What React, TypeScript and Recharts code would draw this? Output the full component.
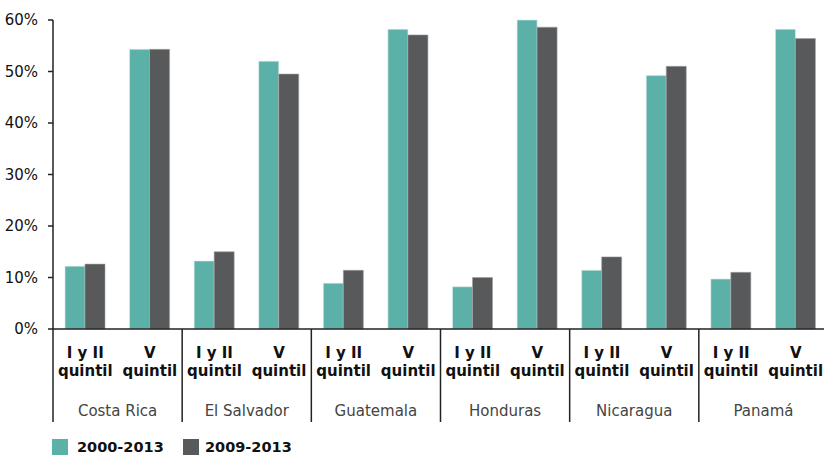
import React from 'react';
import { BarChart, Bar, XAxis, YAxis, Legend } from 'recharts';

const countries = ['Costa Rica', 'El Salvador', 'Guatemala', 'Honduras', 'Nicaragua', 'Panamá'];
const quintiles = ['I y II', 'V'];
const series2000 = [12.2, 54.3, 13.2, 52.0, 8.9, 58.2, 8.2, 60.0, 11.4, 49.2, 9.7, 58.2];
const series2009 = [12.6, 54.3, 15.0, 49.5, 11.4, 57.1, 10.0, 58.6, 14.0, 51.0, 11.0, 56.4];
const yTicks = [0, 10, 20, 30, 40, 50, 60];

const TEAL = '#5BB1A7';
const GREY = '#58595B';
const FONT = "'DejaVu Sans', sans-serif";

const data = series2000.map((v, i) => ({
  key: `${countries[Math.floor(i / 2)]}-${i % 2}`,
  country: countries[Math.floor(i / 2)],
  quintile: quintiles[i % 2],
  a: v,
  b: series2009[i],
}));

const CHART_W = 828;
const BAND = (CHART_W - 53) / 12;

const QuintileTick = (props: any) => {
  const { x, y, index } = props;
  const d = data[index];
  const first = index % 2 === 0;
  const top = y - 8;
  return (
    <g fontFamily={FONT} textAnchor="middle">
      <text x={x} y={top + 29} fontWeight="bold" fontSize={15} fill="#111">{d.quintile}</text>
      <text x={x} y={top + 47} fontWeight="bold" fontSize={15} fill="#111">quintil</text>
      {first && (
        <>
          <text x={x + BAND / 2} y={top + 87} fontSize={15} fill="#444">{d.country}</text>
          <line x1={x - BAND / 2} x2={x - BAND / 2} y1={top} y2={top + 93} stroke="#222" strokeWidth={1.5} />
        </>
      )}
    </g>
  );
};

const LegendContent = () => (
  <div
    style={{
      display: 'flex',
      alignItems: 'center',
      fontFamily: FONT,
      fontWeight: 'bold',
      fontSize: 14.5,
      color: '#111',
      paddingLeft: 52,
      marginTop: 15,
      whiteSpace: 'nowrap',
    }}
  >
    <span style={{ width: 16, height: 16, background: TEAL, display: 'inline-block', marginRight: 9 }} />
    <span style={{ width: 106 }}>2000-2013</span>
    <span style={{ width: 16, height: 16, background: GREY, display: 'inline-block', marginRight: 6 }} />
    <span>2009-2013</span>
  </div>
);

export default function App() {
  return (
    <div style={{ position: 'absolute', left: 0, top: 0, width: 824, height: 458, overflow: 'hidden', background: '#fff' }}>
      <BarChart
        width={CHART_W}
        height={458}
        data={data}
        margin={{ top: 20, right: 0, left: 0, bottom: 0 }}
        barGap={0}
        barSize={20}
      >
        <XAxis
          dataKey="key"
          interval={0}
          height={95}
          tickLine={false}
          axisLine={{ stroke: '#222', strokeWidth: 1.5 }}
          tick={<QuintileTick />}
        />
        <YAxis
          domain={[0, 60]}
          ticks={yTicks}
          width={53}
          tickSize={5}
          tickFormatter={(v: number) => `${v}%`}
          axisLine={{ stroke: '#222', strokeWidth: 1.5 }}
          tickLine={{ stroke: '#222', strokeWidth: 1.5 }}
          tick={{ fontFamily: FONT, fontSize: 15, fill: '#111', dx: -8 }}
        />
        <Legend
          verticalAlign="bottom"
          align="left"
          content={<LegendContent />}
          wrapperStyle={{ height: 34, left: 0, bottom: 0 }}
        />
        <Bar dataKey="a" name="2000-2013" fill={TEAL} stroke="#d6ebe8" strokeWidth={0.6} isAnimationActive={false} />
        <Bar dataKey="b" name="2009-2013" fill={GREY} stroke="#a0a0a2" strokeWidth={0.6} isAnimationActive={false} />
      </BarChart>
    </div>
  );
}
